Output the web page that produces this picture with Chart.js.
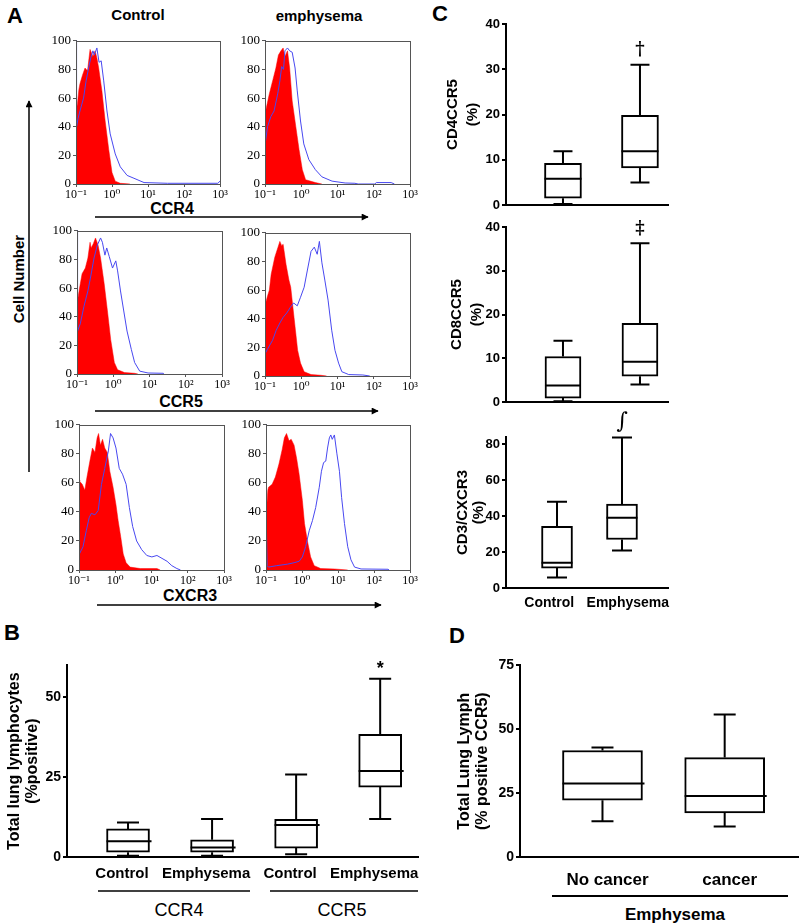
<!DOCTYPE html>
<html>
<head>
<meta charset="utf-8">
<script src="https://cdn.jsdelivr.net/npm/chart.js@4.4.1/dist/chart.umd.min.js"></script>
<style>
  body { margin: 0; background: #fff; }
  #page { position: relative; width: 800px; height: 923px; overflow: hidden;
          font-family: "Liberation Sans", Arial, sans-serif; color: #000; }
  .t { position: absolute; white-space: nowrap; transform: translate(-50%, -50%); line-height: 1; }
  .b { font-weight: bold; }
  .rot { transform: translate(-50%, -50%) rotate(-90deg); }
  svg { position: absolute; left: 0; top: 0; }
</style>
</head>
<body>
<div id="page">
  <svg width="800" height="923">
    <defs>
      <marker id="head" viewBox="0 0 10 10" refX="9" refY="5" markerWidth="9" markerHeight="7" orient="auto" markerUnits="userSpaceOnUse">
        <path d="M0,0 L10,5 L0,10 z" fill="#000"/>
      </marker>
    </defs>
    <g stroke="#000" stroke-width="1.5">
      <line x1="95" y1="217" x2="368" y2="217" marker-end="url(#head)"/>
      <line x1="95" y1="411" x2="378" y2="411" marker-end="url(#head)"/>
      <line x1="97" y1="605" x2="381" y2="605" marker-end="url(#head)"/>
      <line x1="29" y1="472" x2="29" y2="101" marker-end="url(#head)"/>
      <line x1="98" y1="891" x2="250" y2="891"/>
      <line x1="270" y1="891" x2="418" y2="891"/>
      <line x1="552" y1="896" x2="788" y2="896" stroke-width="2"/>
    </g>
  </svg>

  <div class="t b" style="left:15px;top:16px;font-size:22px">A</div>
  <div class="t b" style="left:12px;top:633px;font-size:22px">B</div>
  <div class="t b" style="left:440px;top:14px;font-size:22px">C</div>
  <div class="t b" style="left:457px;top:636px;font-size:22px">D</div>

  <div class="t b" style="left:138px;top:14px;font-size:15px">Control</div>
  <div class="t b" style="left:319px;top:15px;font-size:15px">emphysema</div>
  <div class="t b" style="left:172px;top:209px;font-size:16px">CCR4</div>
  <div class="t b" style="left:181px;top:402px;font-size:16px">CCR5</div>
  <div class="t b" style="left:190px;top:596px;font-size:16px">CXCR3</div>
  <div class="t b rot" style="left:18px;top:279px;font-size:15px">Cell Number</div>

  <div class="t" style="left:179px;top:910px;font-size:18px">CCR4</div>
  <div class="t" style="left:342px;top:910px;font-size:18px">CCR5</div>
  <div class="t b" style="left:675px;top:914px;font-size:17px">Emphysema</div>
</div>

<script>
// ---- Panel A: flow histograms, [log10 fluorescence, % of max] ----
const ccr4CtrlIso = [[-1,51],[-0.96,56],[-0.92,66],[-0.89,70],[-0.82,76],[-0.75,81],[-0.68,79],[-0.61,94],[-0.53,89],[-0.47,93],[-0.42,88],[-0.37,81],[-0.28,65],[-0.19,44],[-0.09,24],[0,8],[0.09,2],[0.23,0.5],[0.5,0]];
const ccr4CtrlStain = [[-1,100],[-0.99,44],[-0.98,40],[-0.94,46],[-0.89,51],[-0.79,60],[-0.72,72],[-0.65,81],[-0.59,88],[-0.53,93],[-0.49,90],[-0.42,95],[-0.36,85],[-0.3,86],[-0.23,72],[-0.14,51],[-0.05,35],[0.09,21],[0.23,12],[0.42,6],[0.61,4],[0.89,1],[1.54,0.5],[2.94,0.5],[3,2]];
const ccr4EmphIso = [[-1,49],[-0.94,56],[-0.88,63],[-0.79,72],[-0.7,81],[-0.63,90],[-0.56,93],[-0.5,95],[-0.45,89],[-0.38,93],[-0.32,81],[-0.25,58],[-0.15,40],[-0.06,24],[0.03,10],[0.12,3],[0.39,1],[0.57,0]];
const ccr4EmphStain = [[-1,100],[-0.995,28],[-0.93,40],[-0.84,47],[-0.75,51],[-0.65,63],[-0.59,72],[-0.54,82],[-0.49,80],[-0.45,93],[-0.38,95],[-0.32,93],[-0.25,92],[-0.17,81],[-0.11,65],[-0.02,44],[0.07,28],[0.21,17],[0.39,10],[0.57,5],[0.85,2],[1.21,0.7],[1.48,0.5],[1.57,0],[2.03,0],[2.07,1],[2.48,1],[2.57,0]];
const ccr5CtrlIso = [[-1,49],[-0.93,60],[-0.86,70],[-0.77,74],[-0.7,81],[-0.64,92],[-0.61,88],[-0.55,91],[-0.49,95],[-0.42,90],[-0.35,81],[-0.25,63],[-0.16,44],[-0.07,24],[0.03,8],[0.12,3],[0.31,1],[0.59,0.5],[0.68,0]];
const ccr5CtrlStain = [[-1,100],[-0.99,33],[-0.98,30],[-0.91,35],[-0.81,47],[-0.7,58],[-0.63,67],[-0.53,81],[-0.44,90],[-0.35,95],[-0.3,92],[-0.23,83],[-0.18,88],[-0.11,82],[-0.02,74],[0.07,79],[0.12,72],[0.2,58],[0.29,44],[0.38,30],[0.5,17],[0.59,8],[0.73,2],[0.96,0.7],[1.38,0.5],[1.4,0]];
const ccr5EmphIso = [[-1,49],[-0.94,55],[-0.88,60],[-0.83,71],[-0.73,83],[-0.64,90],[-0.59,94],[-0.54,91],[-0.5,92],[-0.42,78],[-0.34,67],[-0.29,62],[-0.23,48],[-0.16,32],[-0.1,18],[-0.02,9],[0.08,3],[0.27,1],[0.55,0.5],[0.7,0]];
const ccr5EmphStain = [[-1,100],[-0.99,16],[-0.88,21],[-0.79,25],[-0.69,32],[-0.59,37],[-0.5,41],[-0.4,44],[-0.3,48],[-0.21,51],[-0.11,49],[-0.02,55],[0.08,62],[0.17,74],[0.27,87],[0.36,90],[0.44,85],[0.5,94],[0.57,79],[0.65,67],[0.74,53],[0.84,32],[0.93,18],[1.03,9],[1.12,3],[1.31,1],[1.7,0.7],[1.89,0]];
const cxcr3CtrlIso = [[-1,62],[-0.98,61],[-0.91,59],[-0.84,55],[-0.78,64],[-0.7,75],[-0.63,84],[-0.56,81],[-0.5,91],[-0.46,94],[-0.41,86],[-0.35,90],[-0.29,84],[-0.22,81],[-0.15,68],[-0.06,57],[0.02,45],[0.08,34],[0.15,23],[0.22,11],[0.3,5],[0.41,2],[0.69,1],[1.15,1],[1.24,0]];
const cxcr3CtrlStain = [[-1,100],[-0.99,11],[-0.89,16],[-0.8,27],[-0.72,36],[-0.66,39],[-0.56,38],[-0.47,41],[-0.38,59],[-0.29,70],[-0.19,82],[-0.13,94],[-0.06,91],[0.02,84],[0.11,70],[0.2,66],[0.3,59],[0.39,43],[0.48,30],[0.59,20],[0.73,14],[0.87,10],[1.01,9],[1.15,10],[1.29,8],[1.43,6],[1.56,3],[1.7,1],[1.8,0]];
const cxcr3EmphIso = [[-1,36],[-0.95,55],[-0.93,57],[-0.83,59],[-0.74,64],[-0.64,73],[-0.55,83],[-0.49,91],[-0.43,94],[-0.36,89],[-0.3,90],[-0.22,86],[-0.15,77],[-0.08,66],[0.01,48],[0.07,32],[0.15,20],[0.24,9],[0.34,3],[0.52,1],[0.9,0.7],[1.27,0]];
const cxcr3EmphStain = [[-1,100],[-0.995,40],[-0.97,3],[-0.93,2],[-0.7,3],[-0.41,4],[-0.22,5],[-0.08,6],[0.01,9],[0.1,16],[0.2,27],[0.29,34],[0.38,43],[0.48,57],[0.54,68],[0.6,74],[0.66,75],[0.71,84],[0.76,91],[0.8,93],[0.84,90],[0.9,93],[0.97,80],[1.04,68],[1.1,50],[1.18,32],[1.27,16],[1.36,7],[1.46,2],[1.64,0.7],[2.39,0.5],[2.42,0]];
const histYTicks = [0, 20, 40, 60, 80, 100];
const decadeLabels = { '-1': '10⁻¹', '0': '10⁰', '1': '10¹', '2': '10²', '3': '10³' };

// ---- Panel B: total lung lymphocytes ----
const bLabels = ['Control', 'Emphysema', 'Control', 'Emphysema'];
const bMin = [0.4, 0.4, 0.9, 11.9];
const bQ1 = [1.5, 1.5, 2.8, 21.9];
const bMed = [4.9, 3.0, 10.0, 26.9];
const bQ3 = [8.8, 5.4, 11.8, 38.4];
const bMax = [10.8, 11.9, 25.8, 55.8];
const bMarks = ['', '', '', '*'];

// ---- Panel C ----
const cLabels = ['Control', 'Emphysema'];
const c4Min = [0.2, 5.0], c4Q1 = [1.5, 8.2], c4Med = [5.8, 11.9], c4Q3 = [9.2, 19.8], c4Max = [11.9, 31.0];
const c4Marks = ['', '†'];
const c8Min = [0.2, 4.0], c8Q1 = [0.9, 5.9], c8Med = [3.8, 9.2], c8Q3 = [10.4, 18.0], c8Max = [14.0, 36.3];
const c8Marks = ['', '‡'];
const c3Min = [5.9, 20.9], c3Q1 = [11.1, 27.0], c3Med = [14.1, 39.1], c3Q3 = [34.3, 46.7], c3Max = [48.0, 83.7];
const c3Marks = ['', '∫'];

// ---- Panel D ----
const dLabels = ['No cancer', 'cancer'];
const dMin = [14.0, 11.9];
const dQ1 = [22.2, 17.3];
const dMed = [28.8, 23.9];
const dQ3 = [41.7, 38.9];
const dMax = [42.9, 55.8];

Chart.defaults.font.family = '"Liberation Sans", Arial, sans-serif';
Chart.defaults.color = '#000';

function makeCanvas(left, top, width, height) {
  const c = document.createElement('canvas');
  c.width = width;
  c.height = height;
  c.style.cssText = `position:absolute;left:${left}px;top:${top}px;width:${width}px;height:${height}px`;
  document.getElementById('page').appendChild(c);
  return c;
}

const framePlugin = {
  id: 'frame',
  afterDraw(chart) {
    const { ctx, chartArea: a } = chart;
    ctx.save();
    ctx.strokeStyle = '#555';
    ctx.lineWidth = 1;
    ctx.strokeRect(Math.round(a.left) + 0.5, Math.round(a.top) + 0.5, Math.round(a.width), Math.round(a.height));
    ctx.restore();
  }
};

const serif = { family: '"Liberation Serif", "DejaVu Serif", serif', size: 12 };

function histogram(left, top, w, h, iso, stain) {
  const cv = makeCanvas(left - 32, top - 8, w + 42, h + 28);
  new Chart(cv, {
    type: 'line',
    data: {
      datasets: [
        { data: stain.map(([x, y]) => ({ x, y })), borderColor: '#4848f0', borderWidth: 1, pointRadius: 0, fill: false, tension: 0 },
        { data: iso.map(([x, y]) => ({ x, y })), borderColor: '#ff0000', borderWidth: 0.5, backgroundColor: '#ff0000', pointRadius: 0, fill: 'origin', tension: 0 }
      ]
    },
    options: {
      responsive: false, animation: false, events: [],
      layout: { padding: { top: 8, right: 10 } },
      plugins: { legend: { display: false }, tooltip: { enabled: false } },
      scales: {
        x: {
          type: 'linear', min: -1, max: 3, bounds: 'data',
          afterFit: s => { s.height = 20; s.paddingLeft = 0; s.paddingRight = 0; },
          ticks: { stepSize: 1, maxRotation: 0, autoSkip: false, padding: 1, font: serif,
                   callback: v => decadeLabels[String(v)] || '' },
          grid: { drawOnChartArea: false, tickLength: 3, color: '#555' },
          border: { color: '#555', width: 1 }
        },
        y: {
          min: 0, max: 100,
          afterFit: s => { s.width = 32; },
          afterBuildTicks: s => { s.ticks = histYTicks.map(v => ({ value: v })); },
          ticks: { padding: 2, font: { ...serif, size: 13 } },
          grid: { drawOnChartArea: false, tickLength: 3, color: '#555' },
          border: { color: '#555', width: 1 }
        }
      }
    },
    plugins: [framePlugin]
  });
}

histogram(76, 39, 144, 145, ccr4CtrlIso, ccr4CtrlStain);
histogram(265, 39, 145, 145, ccr4EmphIso, ccr4EmphStain);
histogram(77, 229, 145, 145, ccr5CtrlIso, ccr5CtrlStain);
histogram(265, 231, 145, 145, ccr5EmphIso, ccr5EmphStain);
histogram(79, 423, 145, 147, cxcr3CtrlIso, cxcr3CtrlStain);
histogram(266, 423, 144, 147, cxcr3EmphIso, cxcr3EmphStain);

// whiskers, medians and significance marks drawn on top of the floating-bar boxes
function whiskers(st) {
  return {
    id: 'whiskers',
    afterDatasetsDraw(chart) {
      const { ctx, scales: { x, y } } = chart;
      ctx.save();
      ctx.strokeStyle = '#000';
      ctx.lineWidth = 2;
      st.med.forEach((m, i) => {
        const px = x.getPixelForValue(i + 1);
        const hb = st.boxW / 2, hc = st.capW / 2;
        const yMax = y.getPixelForValue(st.max[i]), yQ3 = y.getPixelForValue(st.q3[i]);
        const yMin = y.getPixelForValue(st.min[i]), yQ1 = y.getPixelForValue(st.q1[i]);
        const yMed = y.getPixelForValue(m);
        ctx.beginPath();
        ctx.moveTo(px, yQ3); ctx.lineTo(px, yMax);
        ctx.moveTo(px - hc, yMax); ctx.lineTo(px + hc, yMax);
        ctx.moveTo(px, yQ1); ctx.lineTo(px, yMin);
        ctx.moveTo(px - hc, yMin); ctx.lineTo(px + hc, yMin);
        ctx.moveTo(px - hb, yMed); ctx.lineTo(px + hb + st.medOver, yMed);
        ctx.stroke();
        const mark = st.marks && st.marks[i];
        if (mark) {
          ctx.font = st.markFont;
          ctx.fillStyle = '#000';
          ctx.textAlign = 'center';
          ctx.textBaseline = 'middle';
          ctx.fillText(mark, px, yMax - st.markGap);
        }
      });
      ctx.restore();
    }
  };
}

// pad a tick label with spaces to nudge it left (negative) or right (positive)
function padLabel(text, n) {
  if (!n) return text;
  return n < 0 ? text + ' '.repeat(-n) : ' '.repeat(n) + text;
}

function boxChart(o) {
  const cv = makeCanvas(o.left, o.top, o.width, o.height);
  new Chart(cv, {
    type: 'bar',
    data: {
      datasets: [{
        data: o.q1.map((q, i) => ({ x: i + 1, y: [q, o.q3[i]] })),
        backgroundColor: '#fff', borderColor: '#000', borderWidth: 2,
        borderSkipped: false, barThickness: o.boxW
      }]
    },
    options: {
      responsive: false, animation: false, events: [],
      layout: { padding: { top: o.padTop, right: o.padRight || 2 } },
      plugins: { legend: { display: false }, tooltip: { enabled: false } },
      scales: {
        x: {
          type: 'linear', min: o.xMin, max: o.xMax, bounds: 'data', offset: false,
          afterBuildTicks: s => { s.ticks = o.labels.map((_, i) => ({ value: i + 1 })); },
          afterFit: s => { s.height = o.xH; s.paddingLeft = 0; s.paddingRight = 0; },
          ticks: { display: o.showX, maxRotation: 0, autoSkip: false, padding: o.xPad,
                   labelOffset: o.labelOffset || 0,
                   font: { size: o.xFont, weight: 'bold' },
                   callback: v => padLabel(o.labels[v - 1], o.labelPad ? o.labelPad[v - 1] : 0) },
          grid: { display: false, drawTicks: false, offset: false },
          border: { color: '#000', width: 2 }
        },
        y: {
          min: 0, max: o.yMax,
          afterFit: s => { s.width = o.yW; },
          title: { display: true, text: o.title, padding: { top: 4, bottom: 0 },
                   font: { size: o.titleSize, weight: 'bold', lineHeight: o.titleLH } },
          ticks: { stepSize: o.step, includeBounds: false, padding: 2,
                   font: { size: o.tickFont, weight: 'bold' } },
          grid: { drawOnChartArea: false, tickLength: 4, color: '#000', lineWidth: 2 },
          border: { color: '#000', width: 2 }
        }
      }
    },
    plugins: [whiskers(o)]
  });
}

// Panel B
boxChart({
  left: 2, top: 655, width: 418, height: 232, padTop: 8,
  yW: 65, xH: 30, xMin: 0.274, xMax: 4.45, yMax: 60, step: 25,
  labels: bLabels, min: bMin, q1: bQ1, med: bMed, q3: bQ3, max: bMax, marks: bMarks,
  boxW: 43, capW: 22, medOver: 2, markGap: 10, markFont: 'bold 18px "Liberation Sans"',
  showX: true, xFont: 15, xPad: 8, tickFont: 14, labelOffset: -6,
  title: ['Total lung lymphocytes', '(%positive)'], titleSize: 16, titleLH: 1.125
});

// Panel C
boxChart({
  left: 439, top: 0, width: 231, height: 215, padTop: 24,
  yW: 67, xH: 10, xMin: 0.26, xMax: 2.364, yMax: 40, step: 10,
  labels: cLabels, min: c4Min, q1: c4Q1, med: c4Med, q3: c4Q3, max: c4Max, marks: c4Marks,
  boxW: 37, capW: 19, medOver: 0, markGap: 14, markFont: 'bold 18px "DejaVu Serif"',
  showX: false, xFont: 14, xPad: 6, tickFont: 13,
  title: ['CD4CCR5', '(%)'], titleSize: 15, titleLH: 1.33
});
boxChart({
  left: 443, top: 212, width: 227, height: 200, padTop: 15,
  yW: 63, xH: 10, xMin: 0.26, xMax: 2.364, yMax: 40, step: 10,
  labels: cLabels, min: c8Min, q1: c8Q1, med: c8Med, q3: c8Q3, max: c8Max, marks: c8Marks,
  boxW: 36, capW: 19, medOver: 0, markGap: 14, markFont: 'bold 18px "DejaVu Serif"',
  showX: false, xFont: 14, xPad: 6, tickFont: 13,
  title: ['CD8CCR5', '(%)'], titleSize: 15, titleLH: 1.33
});
boxChart({
  left: 451, top: 400, width: 239, height: 218, padTop: 37, padRight: 22,
  yW: 55, xH: 30, xMin: 0.215, xMax: 2.708, yMax: 84, step: 20,
  labels: cLabels, min: c3Min, q1: c3Q1, med: c3Med, q3: c3Q3, max: c3Max, marks: c3Marks,
  boxW: 31, capW: 20, medOver: 0, markGap: 15, markFont: 'italic 22px "DejaVu Serif"',
  showX: true, xFont: 14, xPad: 7, tickFont: 13,
  labelPad: [-4, 3],
  title: ['CD3/CXCR3', '(%)'], titleSize: 15, titleLH: 1.07
});

// Panel D
boxChart({
  left: 452, top: 655, width: 348, height: 242, padTop: 10,
  yW: 68, xH: 40, xMin: 0.325, xMax: 2.6, yMax: 75, step: 25,
  labels: dLabels, min: dMin, q1: dQ1, med: dMed, q3: dQ3, max: dMax, marks: null,
  boxW: 80, capW: 22, medOver: 2, markGap: 10, markFont: 'bold 18px "Liberation Sans"',
  showX: true, xFont: 17, xPad: 13, tickFont: 14, labelOffset: 5,
  title: ['Total Lung Lymph', '(% positive CCR5)'], titleSize: 16, titleLH: 1.125
});
</script>
</body>
</html>
